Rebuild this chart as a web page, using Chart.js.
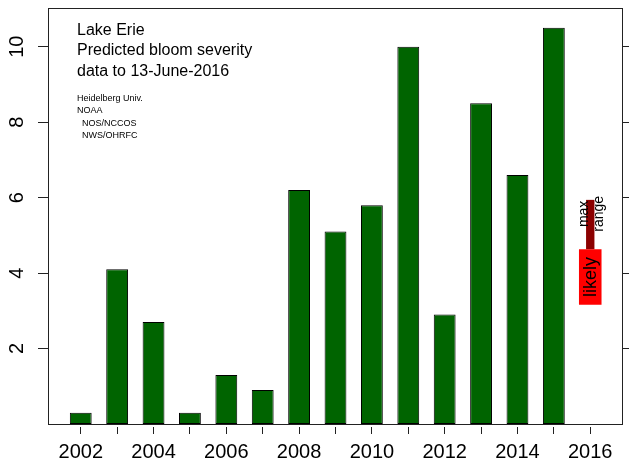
<!DOCTYPE html>
<html>
<head>
<meta charset="utf-8">
<script src="https://cdn.jsdelivr.net/npm/chart.js@4/dist/chart.umd.min.js"></script>
<style>
  html, body { margin: 0; padding: 0; background: #fff; }
  #wrap { width: 629px; height: 466px; position: relative; }
</style>
</head>
<body>
<div id="wrap"><canvas id="c"></canvas></div>
<script>
// ---- data ----
const years = [2002, 2003, 2004, 2005, 2006, 2007, 2008, 2009, 2010, 2011, 2012, 2013, 2014, 2015];
const severity = [0.3, 4.1, 2.7, 0.3, 1.3, 0.9, 6.2, 5.1, 5.8, 10.0, 2.9, 8.5, 6.6, 10.5];
const forecastYear = 2016;
const likelyRange = [3.16, 4.63];
const maxRange = [4.63, 5.94];
const xTickYears = [2002, 2003, 2004, 2005, 2006, 2007, 2008, 2009, 2010, 2011, 2012, 2013, 2014, 2015, 2016];
const yTicks = [2, 4, 6, 8, 10];
const titleLines = ['Lake Erie', 'Predicted bloom severity', 'data to 13-June-2016'];
const creditLines = ['Heidelberg Univ.', 'NOAA', '  NOS/NCCOS', '  NWS/OHRFC'];
const yMax = 11.025;

const FONT = "'Liberation Sans', Arial, Helvetica, sans-serif";
Chart.defaults.font.family = FONT;
Chart.defaults.color = '#000';

const annotations = {
  id: 'annotations',
  afterDatasetsDraw(chart) {
    const ctx = chart.ctx;
    const xs = chart.scales.x, ys = chart.scales.y;
    const a = chart.chartArea;
    ctx.save();
    ctx.fillStyle = '#000';
    ctx.textBaseline = 'middle';
    ctx.textAlign = 'left';
    ctx.font = '16px ' + FONT;
    const tY = [31, 51, 72];
    titleLines.forEach((t, i) => ctx.fillText(t, a.left + 29, tY[i]));
    ctx.font = '9px ' + FONT;
    const cY = [99, 111, 124, 136];
    creditLines.forEach((t, i) => ctx.fillText(t, a.left + 29, cY[i]));

    // rotated labels at the forecast bar
    const fx = xs.getPixelForValue(forecastYear);
    const drawRot = (txt, x, y, size) => {
      ctx.save();
      ctx.translate(x, y);
      ctx.rotate(-Math.PI / 2);
      ctx.font = size + 'px ' + FONT;
      ctx.textAlign = 'center';
      ctx.textBaseline = 'middle';
      ctx.fillText(txt, 0, 0);
      ctx.restore();
    };
    const maxTop = ys.getPixelForValue(maxRange[1]);
    drawRot('max', fx - 6, maxTop + 14, 14);
    drawRot('range', fx + 9, maxTop + 14, 14);
    drawRot('likely', fx + 1, ys.getPixelForValue((likelyRange[0] + likelyRange[1]) / 2), 18);

    // plot box
    ctx.strokeStyle = '#222';
    ctx.lineWidth = 1;
    ctx.strokeRect(Math.round(a.left) + 0.5, Math.round(a.top) + 0.5,
                   Math.round(a.right - a.left) - 1, Math.round(a.bottom - a.top));
    ctx.restore();
  }
};

const noPad = s => { s.paddingTop = 0; s.paddingBottom = 0; s.paddingLeft = 0; s.paddingRight = 0; };

new Chart(document.getElementById('c'), {
  type: 'bar',
  data: {
    datasets: [
      {
        label: 'observed',
        data: years.map((y, i) => ({ x: y, y: severity[i] })),
        backgroundColor: '#006400',
        borderColor: '#000',
        borderWidth: 1,
        borderSkipped: false,
        barPercentage: 0.6,
        categoryPercentage: 1,
        grouped: false
      },
      {
        label: 'likely',
        data: [{ x: forecastYear, y: likelyRange }],
        backgroundColor: '#ff0000',
        borderWidth: 0,
        barPercentage: 0.62,
        categoryPercentage: 1,
        grouped: false
      },
      {
        label: 'max range',
        data: [{ x: forecastYear, y: maxRange }],
        backgroundColor: '#8b0000',
        borderWidth: 0,
        barPercentage: 0.23,
        categoryPercentage: 1,
        grouped: false
      }
    ]
  },
  options: {
    responsive: true,
    maintainAspectRatio: false,
    animation: false,
    layout: { padding: { top: 8, right: 0, left: 0, bottom: 0 } },
    plugins: { legend: { display: false }, tooltip: { enabled: false } },
    scales: {
      x: {
        type: 'linear',
        offset: false,
        min: 2001.1,
        max: 2016.9,
        afterBuildTicks: s => { s.ticks = xTickYears.map(v => ({ value: v })); },
        afterFit: s => { s.height = 42; noPad(s); },
        border: { display: false },
        grid: {
          offset: false,
          drawOnChartArea: false,
          drawTicks: true,
          tickLength: 10,
          tickColor: '#222',
          tickWidth: 1,
          tickBorderDash: [0, 3, 7, 50]
        },
        ticks: {
          autoSkip: false,
          maxRotation: 0,
          minRotation: 0,
          padding: 6,
          font: { size: 20 },
          color: '#000',
          callback: v => (v % 2 === 0 ? String(v) : '')
        }
      },
      y: {
        type: 'linear',
        position: 'left',
        min: 0,
        max: yMax,
        afterBuildTicks: s => { s.ticks = yTicks.map(v => ({ value: v })); },
        afterFit: s => { s.width = 48; noPad(s); },
        border: { display: false },
        grid: {
          drawOnChartArea: false,
          drawTicks: true,
          tickLength: 10,
          tickColor: '#222',
          tickWidth: 1
        },
        ticks: {
          minRotation: 90,
          maxRotation: 90,
          crossAlign: 'center',
          padding: 9,
          font: { size: 20 },
          color: '#000',
          callback: v => String(v)
        }
      },
      y2: {
        type: 'linear',
        position: 'right',
        min: 0,
        max: yMax,
        afterBuildTicks: s => { s.ticks = yTicks.map(v => ({ value: v })); },
        afterFit: s => { s.width = 6; noPad(s); },
        border: { display: false },
        grid: {
          drawOnChartArea: false,
          drawTicks: true,
          tickLength: 8,
          tickColor: '#222',
          tickWidth: 1
        },
        ticks: { display: false }
      }
    }
  },
  plugins: [annotations]
});
</script>
</body>
</html>
